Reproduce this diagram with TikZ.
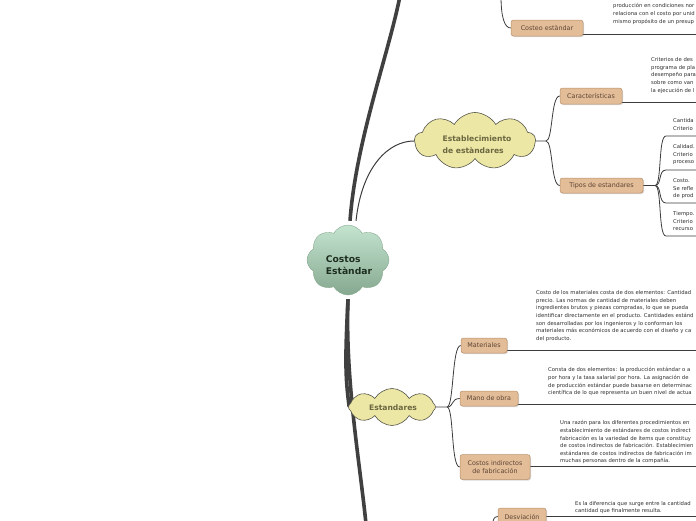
\documentclass[tikz,border=0pt]{standalone}
\usepackage{fontspec}
\setmainfont{DejaVu Sans}
\usetikzlibrary{shapes.symbols,shadows,backgrounds}
\definecolor{boxfill}{HTML}{E3BC98}
\definecolor{boxborder}{HTML}{B8916C}
\definecolor{boxtext}{HTML}{5C4634}
\definecolor{leaftext}{HTML}{2E2E2E}
\definecolor{conncol}{HTML}{3C3C3C}
\definecolor{thickcol}{HTML}{404040}
\definecolor{cgtop}{HTML}{C4E4D0}
\definecolor{cgbot}{HTML}{86A88F}
\definecolor{cgtext}{HTML}{1E2E20}
\definecolor{yfill}{HTML}{EDE7A6}
\definecolor{yborder}{HTML}{55554A}
\definecolor{ytext}{HTML}{6A6740}
\begin{document}
\begin{tikzpicture}[x=1pt,y=-1pt,
  boxnode/.style={draw=boxborder, line width=0.5pt, fill=boxfill, rounded corners=2.5pt, text=boxtext,
    font=\fontsize{6.4}{7.6}\selectfont, inner sep=0pt, align=center,
    drop shadow={opacity=0.3, shadow xshift=1pt, shadow yshift=-1pt}},
  leaf/.style={anchor=north west, inner sep=0pt, align=left, text=leaftext,
    font=\fontsize{5.3}{7.6}\selectfont},
  conn/.style={draw=conncol, line width=0.8pt},
  thickln/.style={draw=thickcol, line width=3.6pt},
  ycloud/.style={cloud, draw=yborder, line width=0.6pt, fill=yfill, inner sep=0pt},
  ctext/.style={inner sep=0pt, align=left, text=ytext, font=\bfseries\fontsize{7.6}{12}\selectfont}]
\useasboundingbox (0,0) rectangle (696,520);
\clip (0,0) rectangle (696,520);

% clouds
\node[cloud, cloud puffs=8, cloud puff arc=120, aspect=1.15, minimum width=82pt, minimum height=70pt,
  top color=cgtop, bottom color=cgbot, draw=cgbot, line width=0.4pt, inner sep=0pt] (c) at (348,260) {};
\node[inner sep=0pt, align=left, text=cgtext, font=\bfseries\fontsize{9.2}{12}\selectfont] (ct) at (349,265) {Costos\\Estàndar};

\node[ycloud, cloud puffs=9, cloud puff arc=120, aspect=2.1, minimum width=121pt, minimum height=57pt] (e) at (475,141) {};
\node[ctext] (et) at (477,145) {Establecimiento\\de estàndares};

\node[ycloud, cloud puffs=8, cloud puff arc=120, aspect=2.3, minimum width=87pt, minimum height=37pt] (s) at (392,407) {};
\node[ctext] (st) at (393,408) {Estandares};

% boxes
\node[boxnode, minimum width=72pt, minimum height=16pt] (costeo) at (547,28) {Costeo estàndar};
\node[boxnode, minimum width=62pt, minimum height=16pt] (car) at (591,96) {Características};
\node[boxnode, minimum width=83pt, minimum height=15pt] (tip) at (601.5,185.5) {Tipos de estandares};
\node[boxnode, minimum width=46pt, minimum height=15pt] (mat) at (484,345.5) {Materiales};
\node[boxnode, minimum width=58pt, minimum height=15pt] (mano) at (489,398.5) {Mano de obra};
\node[boxnode, minimum width=70pt, minimum height=25pt] (cind) at (495,467) {Costos indirectos\\de fabricación};
\node[boxnode, minimum width=48pt, minimum height=17pt] (desv) at (522,516.5) {Desviación};

% leaf texts
\node[leaf] (tcosteo) at (613,3.5) {producción en condiciones nor\\relaciona con el costo por unid\\mismo propósito de un presup};
\node[leaf] (tcar) at (651,57.5) {Criterios de des\\programa de pla\\desempeño para\\sobre como van\\la ejecución de l};
\node[leaf] (tq1) at (673,118.5) {Cantida\\Criterio};
\node[leaf] (tq2) at (673,144.5) {Calidad.\\Criterio\\proceso};
\node[leaf] (tq3) at (673,178.5) {Costo.\\Se refle\\de prod};
\node[leaf] (tq4) at (673,211.5) {Tiempo.\\Criterio\\recurso};
\node[leaf] (tmat) at (536,290.5) {Costo de los materiales costa de dos elementos: Cantidad\\precio. Las normas de cantidad de materiales deben\\ingredientes brutos y piezas compradas, lo que se pueda\\identificar directamente en el producto. Cantidades estánd\\son desarrolladas por los ingenieros y lo conforman los\\materiales más económicos de acuerdo con el diseño y ca\\del producto.};
\node[leaf] (tmano) at (548,367.5) {Consta de dos elementos: la producción estándar o a\\por hora y la tasa salarial por hora. La asignación de\\de producción estándar puede basarse en determinac\\científica de lo que representa un buen nivel de actua};
\node[leaf] (tcind) at (560,420.5) {Una razón para los diferentes procedimientos en\\establecimiento de estándares de costos indirect\\fabricación es la variedad de ítems que constituy\\de costos indirectos de fabricación. Establecimien\\estándares de costos indirectos de fabricación im\\muchas personas dentro de la compañía.};
\node[leaf, font=\fontsize{5.3}{7}\selectfont] (tdesv) at (575,501.5) {Es la diferencia que surge entre la cantidad\\cantidad que finalmente resulta.};

% coordinates
\coordinate (topend) at (400,-4);
\coordinate (botend) at (366,524);
\coordinate (costeoP) at (501,-4);
\coordinate (desvP) at (492,526);
\coordinate (lcosteo) at (698,34.5);
\coordinate (lcar) at (698,102.5);
\coordinate (lmat) at (698,350.5);
\coordinate (lmano) at (698,404.5);
\coordinate (lcind) at (698,466.5);
\coordinate (ldesv) at (698,516.5);
\coordinate (q1) at (666,136);
\coordinate (q2) at (666,170);
\coordinate (q3) at (666,203);
\coordinate (q4) at (666,236);
\coordinate (q1e) at (698,136);
\coordinate (q2e) at (698,170);
\coordinate (q3e) at (698,203);
\coordinate (q4e) at (698,236);
\coordinate (eb) at (546,141);
\coordinate (tb) at (655,185.5);
\coordinate (sb) at (447,407);

\begin{scope}[on background layer]
  \draw[thickln] ([xshift=2pt,yshift=4pt]c.north) .. controls +(6,-80) and +(-12,60) .. (topend);
  \draw[thickln] ([yshift=-4pt]c.south) .. controls +(-3,80) and +(-6,-60) .. (botend);
  \draw[thickln] ([yshift=-4pt]c.south) .. controls +(-3,60) and +(-4,-30) .. ([xshift=1pt]s.west);
  \draw[conn, line width=1pt] ([xshift=8pt,yshift=4pt]c.north) .. controls +(6,-55) and +(-25,0) .. (e.west);
  % establecimiento
  \draw[conn] (e.east) -- (eb) .. controls +(7,0) and +(-9,0) .. (car.west);
  \draw[conn] (eb) .. controls +(7,0) and +(-9,0) .. (tip.west);
  \draw[conn] (car.east |- lcar) -- (lcar);
  \draw[conn] (tip.east |- tb) -- (tb);
  \draw[conn] (tb) .. controls +(7,0) and +(-8,0) .. (q1) -- (q1e);
  \draw[conn] (tb) .. controls +(7,0) and +(-8,0) .. (q2) -- (q2e);
  \draw[conn] (tb) .. controls +(7,0) and +(-8,0) .. (q3) -- (q3e);
  \draw[conn] (tb) .. controls +(7,0) and +(-8,0) .. (q4) -- (q4e);
  % costeo
  \draw[conn] (costeoP) .. controls +(0,22) and +(-6,0) .. (costeo.west);
  \draw[conn] (costeo.east |- lcosteo) -- (lcosteo);
  % estandares
  \draw[conn] (s.east) -- (sb) .. controls +(7,0) and +(-9,0) .. (mat.west);
  \draw[conn] (sb) .. controls +(7,0) and +(-9,0) .. (mano.west);
  \draw[conn] (sb) .. controls +(7,0) and +(-9,0) .. (cind.west);
  \draw[conn] (mat.east |- lmat) -- (lmat);
  \draw[conn] (mano.east |- lmano) -- (lmano);
  \draw[conn] (cind.east |- lcind) -- (lcind);
  \draw[conn] (desvP) .. controls +(1,-6) and +(-4,0) .. (desv.west);
  \draw[conn] (desv.east |- ldesv) -- (ldesv);
\end{scope}
\end{tikzpicture}
\end{document}
